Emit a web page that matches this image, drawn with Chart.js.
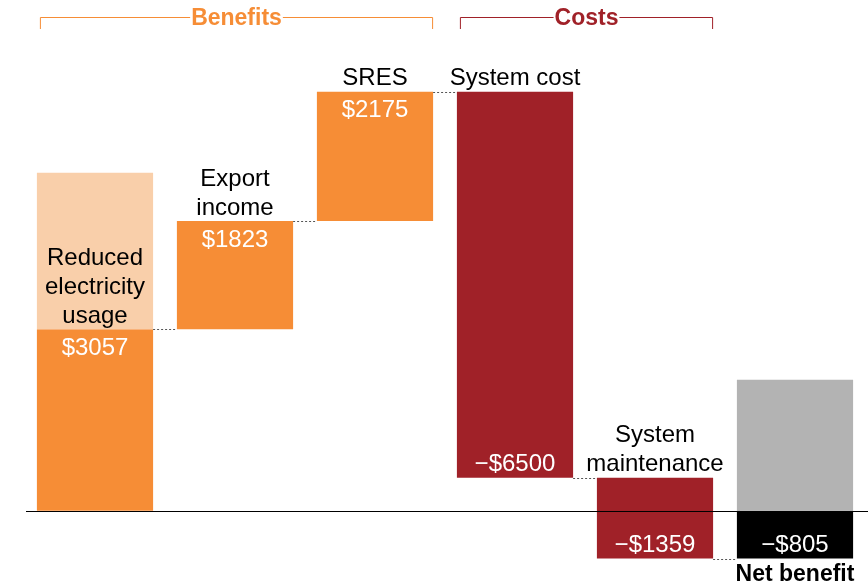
<!DOCTYPE html>
<html><head><meta charset="utf-8">
<script src="https://cdn.jsdelivr.net/npm/chart.js@4"></script>
<style>html,body{margin:0;padding:0;background:#fff;overflow:hidden}#w{width:868px;height:588px}</style>
</head><body><div id="w"><canvas id="c"></canvas></div>
<script>
const categories = [["Reduced","electricity","usage"],["Export","income"],["SRES"],["System cost"],["System","maintenance"],["Net benefit"]];
const values = [3057, 1823, 2175, -6500, -1359, -805];
const valueLabels = ["$3057","$1823","$2175","\u2212$6500","\u2212$1359","\u2212$805"];
const labelBoxTops = [5691, null, null, null, null, 2206];
const groups = [{name:"Benefits", from:0, to:2}, {name:"Costs", from:3, to:4}];

const colors = ["#F68D36","#F68D36","#F68D36","#A02128","#A02128","#000000"];
const boxColors = ["#F9CFAA",null,null,null,null,"#B3B3B3"];
const groupColors = {"Benefits":"#F68D36","Costs":"#A02128"};

// floating ranges
const ranges = [];
let run = 0;
values.forEach((v,i)=>{
  if(i===values.length-1){ ranges.push([0,v]); }
  else { ranges.push([run, run+v]); run += v; }
});
const boxRanges = labelBoxTops.map((t,i)=> t===null ? null : [i===0 ? ranges[0][1] : 0, t]);

const FONT = "'Liberation Sans', Arial, sans-serif";

const plugin = {
  id:'wf',
  afterDatasetsDraw(chart){
    const ctx = chart.ctx, x = chart.scales.x, y = chart.scales.y;
    const meta = chart.getDatasetMeta(1);
    ctx.save();
    // zero line
    ctx.strokeStyle = '#000'; ctx.lineWidth = 1;
    const y0 = Math.round(y.getPixelForValue(0)) + 0.5;
    ctx.beginPath(); ctx.moveTo(26, y0); ctx.lineTo(868, y0); ctx.stroke();
    // connectors
    ctx.setLineDash([2,2]); ctx.strokeStyle = '#555';
    for(let i=0;i<ranges.length-1;i++){
      const end = ranges[i][1];
      const b1 = meta.data[i], b2 = meta.data[i+1];
      const py = Math.round(y.getPixelForValue(end)) + 0.5;
      ctx.beginPath(); ctx.moveTo(b1.x + b1.width/2, py); ctx.lineTo(b2.x - b2.width/2, py); ctx.stroke();
    }
    ctx.setLineDash([]);
    // labels
    ctx.textAlign = 'center'; ctx.textBaseline = 'middle';
    ranges.forEach((r,i)=>{
      const bar = meta.data[i];
      const top = y.getPixelForValue(Math.max(r[0],r[1]));
      const bot = y.getPixelForValue(Math.min(r[0],r[1]));
      ctx.font = '24px ' + FONT;
      ctx.fillStyle = '#fff';
      if(values[i] >= 0) ctx.fillText(valueLabels[i], bar.x, top + 19);
      else ctx.fillText(valueLabels[i], bar.x, bot - 13);
      const lines = categories[i];
      if(i === ranges.length-1){
        ctx.font = 'bold 23px ' + FONT; ctx.fillStyle = '#000';
        ctx.fillText(lines[0], bar.x, bot + 16);
      } else {
        ctx.fillStyle = '#000'; ctx.font = '24px ' + FONT;
        const n = lines.length;
        lines.forEach((ln,k)=>{
          ctx.fillText(ln, bar.x, top - 13 - (n-1-k)*29);
        });
      }
    });
    // group brackets
    groups.forEach(g=>{
      const a = meta.data[g.from], b = meta.data[g.to];
      const l = a.x - a.width/2 + 3, rgt = b.x + b.width/2;
      const col = groupColors[g.name];
      const ly = 17.5;
      ctx.font = 'bold 23px ' + FONT;
      const tw = ctx.measureText(g.name).width;
      const cx = (l + rgt)/2;
      ctx.strokeStyle = col; ctx.lineWidth = 1;
      ctx.beginPath();
      ctx.moveTo(l+0.5, 29); ctx.lineTo(l+0.5, ly); ctx.lineTo(cx - tw/2 - 1, ly);
      ctx.moveTo(cx + tw/2 + 1, ly); ctx.lineTo(rgt-0.5, ly); ctx.lineTo(rgt-0.5, 29);
      ctx.stroke();
      ctx.fillStyle = col;
      ctx.fillText(g.name, cx, ly + 1);
    });
    ctx.restore();
  }
};

new Chart(document.getElementById('c'), {
  type:'bar',
  data:{
    labels: categories.map(c=>c.join(' ')),
    datasets:[
      {data: boxRanges, backgroundColor: boxColors, grouped:false, barPercentage:0.83, categoryPercentage:1, borderWidth:0},
      {data: ranges, backgroundColor: colors, grouped:false, barPercentage:0.83, categoryPercentage:1, borderWidth:0}
    ]
  },
  options:{
    responsive:true, maintainAspectRatio:false, animation:false,
    layout:{padding:{left:25, right:3, top:0, bottom:0}},
    plugins:{legend:{display:false}, tooltip:{enabled:false}},
    scales:{
      x:{display:false, grid:{display:false}},
      y:{display:false, min:-1300, max:8600, grid:{display:false}}
    }
  },
  plugins:[plugin]
});
</script></body></html>
